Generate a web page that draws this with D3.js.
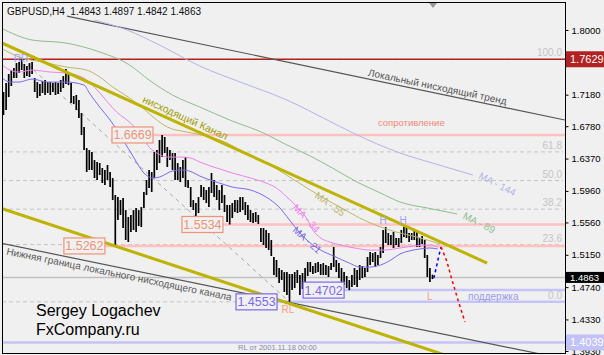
<!DOCTYPE html>
<html>
<head>
<meta charset="utf-8">
<script src="https://cdn.jsdelivr.net/npm/d3@7"></script>
<style>
  body { margin: 0; background: #f0f0f0; }
  svg { display: block; font-family: "Liberation Sans", Arial, sans-serif; }
</style>
</head>
<body>
<div id="chart"></div>
<script>
// GBPUSD H4 bars, one entry per bar (index 0 = first visible bar)
const highs = [
  1.7214,1.7328,1.7442,1.7492,1.7518,1.7581,1.7594,1.7632,1.7569,1.7543,
  1.7581,1.7594,1.7391,1.7340,1.7315,1.7353,1.7366,1.7340,1.7340,1.7328,
  1.7340,1.7328,1.7366,1.7416,1.7505,1.7454,1.7328,1.7163,1.7176,1.7112,
  1.6947,1.6770,1.6504,1.6478,1.6453,1.6351,1.6326,1.6313,1.6250,1.6225,
  1.6288,1.6199,1.6123,1.5908,1.5882,1.5844,1.5870,1.5717,1.5629,1.5654,
  1.5717,1.5743,1.5717,1.5755,1.5946,1.6098,1.6225,1.6199,1.6453,1.6478,
  1.6605,1.6669,1.6643,1.6516,1.6478,1.6440,1.6440,1.6313,1.6263,1.6351,
  1.6389,1.6098,1.6009,1.5844,1.5806,1.5882,1.6034,1.6009,1.5971,1.6009,
  1.6187,1.6098,1.6034,1.5971,1.6034,1.5908,1.5781,1.5781,1.5806,1.5844,
  1.5844,1.5882,1.5882,1.5819,1.5781,1.5717,1.5679,1.5692,1.5654,1.5489,
  1.5489,1.5464,1.5426,1.5337,1.5122,1.5084,1.4982,1.4957,1.4931,1.4931,
  1.4906,1.4906,1.4931,1.4957,1.4893,1.4919,1.4982,1.5058,1.5058,1.5007,
  1.5045,1.5058,1.5033,1.5045,1.5020,1.5007,1.5045,1.5248,1.5084,1.5045,
  1.4982,1.4931,1.4881,1.4830,1.4893,1.4982,1.4957,1.5020,1.5007,1.4982,
  1.5122,1.5185,1.5172,1.5185,1.5147,1.5248,1.5464,1.5502,1.5426,1.5400,
  1.5439,1.5362,1.5362,1.5464,1.5502,1.5502,1.5426,1.5426,1.5452,1.5439,
  1.5362,1.5388,1.5337,1.5147,1.4982,1.4897
];
const lows = [
  1.6922,1.6985,1.7150,1.7290,1.7391,1.7391,1.7454,1.7492,1.7391,1.7416,
  1.7404,1.7442,1.7214,1.7138,1.7163,1.7201,1.7176,1.7201,1.7176,1.7214,
  1.7176,1.7188,1.7214,1.7264,1.7315,1.7302,1.7074,1.7061,1.6985,1.6884,
  1.6668,1.6478,1.6199,1.6225,1.6225,1.6123,1.6098,1.6161,1.6060,1.6034,
  1.6098,1.6009,1.5844,1.5262,1.5591,1.5654,1.5489,1.5337,1.5312,1.5439,
  1.5464,1.5439,1.5515,1.5502,1.5743,1.5908,1.5996,1.5946,1.6123,1.6225,
  1.6313,1.6389,1.6440,1.6263,1.6351,1.6225,1.6098,1.6098,1.6072,1.6123,
  1.6009,1.5996,1.5755,1.5717,1.5591,1.5679,1.5882,1.5844,1.5806,1.5755,
  1.5933,1.5882,1.5844,1.5717,1.5806,1.5692,1.5565,1.5534,1.5616,1.5692,
  1.5679,1.5692,1.5717,1.5654,1.5591,1.5565,1.5553,1.5565,1.5540,1.5312,
  1.5274,1.5236,1.5210,1.5134,1.4893,1.4868,1.4792,1.4830,1.4678,1.4640,
  1.4553,1.4703,1.4728,1.4792,1.4640,1.4716,1.4805,1.4881,1.4931,1.4906,
  1.4919,1.4931,1.4893,1.4893,1.4893,1.4868,1.4957,1.4995,1.4931,1.4855,
  1.4767,1.4767,1.4728,1.4702,1.4741,1.4767,1.4741,1.4830,1.4855,1.4868,
  1.4931,1.5020,1.5058,1.4995,1.5020,1.5109,1.5172,1.5299,1.5274,1.5274,
  1.5236,1.5274,1.5248,1.5299,1.5375,1.5362,1.5312,1.5337,1.5337,1.5248,
  1.5248,1.5286,1.5109,1.4868,1.4805,1.4842
];

// moving averages as [bar index, price]
const ma21 = [[-1,1.7404],[2.5,1.7340],[6,1.7340],[11,1.7378],[17,1.7340],[24,1.7340],[31,1.7302],[33,1.7201],
  [37,1.7023],[41,1.6859],[46,1.6605],[50,1.6389],[54,1.6187],[57.5,1.6123],[60,1.6136],[65,1.6212],[69,1.6225],
  [72.5,1.6199],[75.5,1.6148],[79.5,1.6098],[83,1.6060],[88,1.6009],[95,1.5971],[101,1.5882],[106,1.5755],
  [110,1.5591],[114,1.5426],[118,1.5299],[122,1.5210],[127,1.5134],[133,1.5045],[137,1.4995],[141,1.4995],
  [145,1.5020],[149,1.5084],[152.5,1.5160],[156,1.5198],[160,1.5223],[164,1.5236],[167,1.5223]];
const ma34 = [[-1,1.7569],[2.5,1.7492],[6,1.7467],[11,1.7492],[18,1.7467],[24,1.7454],[28,1.7429],[32,1.7366],
  [36,1.7239],[40,1.7087],[43.5,1.6960],[47.5,1.6859],[52.5,1.6694],[56,1.6516],[59,1.6440],[63,1.6389],[68,1.6389],
  [72,1.6377],[75.5,1.6326],[82,1.6250],[88,1.6187],[95,1.6123],[101,1.6060],[105,1.5996],[109,1.5882],[113,1.5755],
  [117,1.5591],[119,1.5464],[122,1.5362],[125.5,1.5312],[129.5,1.5274],[135,1.5236],[141,1.5210],[146.5,1.5210],
  [152.5,1.5236],[158,1.5262],[164,1.5274],[167,1.5248]];
const ma55 = [[-1,1.7771],[6,1.7657],[15,1.7594],[24,1.7531],[32,1.7492],[37,1.7404],[42,1.7277],[48.5,1.7138],
  [54.5,1.6985],[58,1.6884],[63,1.6770],[70.5,1.6706],[78,1.6656],[86,1.6567],[91,1.6478],[96.5,1.6389],
  [102.5,1.6288],[110,1.6136],[118,1.5971],[126.5,1.5806],[131.5,1.5717],[137,1.5616],[143,1.5527],[151,1.5439],
  [159,1.5375],[168,1.5286]];
const ma89 = [[-1,1.8025],[11,1.7873],[24,1.7835],[37,1.7721],[48.5,1.7556],[56,1.7366],[65,1.7176],[75.5,1.7023],
  [87,1.6859],[100,1.6694],[109,1.6542],[118,1.6402],[126.5,1.6250],[136,1.6072],[145,1.5933],[152.5,1.5819],
  [163,1.5743],[174.5,1.5667]];
const ma144 = [[35,1.8126],[47.5,1.8000],[60,1.7809],[75.5,1.7543],[92,1.7328],[109,1.7112],[124.5,1.6859],
  [134.5,1.6694],[152.5,1.6440],[165,1.6313],[180.5,1.6161]];

// drawn objects: trend lines as [bar index, price] end points
const localTrendUpper = [[24.4,1.8177],[215.9,1.6859]];
const localTrendLower = [[-1.35,1.5299],[215.9,1.3828]];
const channelUpper = [[-1.35,1.7847],[186,1.5045]];
const channelLower = [[-1.35,1.5743],[175.6,1.3816]];
const fibTrend = [[7,1.7629],[110,1.4553]];
const fibLevels = ["0.0","23.6","38.2","50.0","61.8","100.0"];
const fibPrices = [1.4553,1.5279,1.5728,1.6091,1.6454,1.7629];
const resistLevels = [1.6669,1.5534,1.5262];
const resistFrom = [57.5,84.4,39];
const supportLevels = [1.4702,1.4553];
const supportFrom = [131,105.2];
const rlLevel = 1.4039;
const redLevel = 1.7629;
const lastPrice = 1.4863;
const forecastUp = [[165.5,1.4855],[166.5,1.4995],[167.5,1.5147],[168.3,1.5248]];
const forecastDown = [[168.3,1.5248],[170.5,1.5070],[172.5,1.4830],[174.8,1.4577],[177.5,1.4298]];
const tickVals = [1.3930,1.4330,1.4740,1.5150,1.5560,1.5960,1.6370,1.6780,1.7180,1.8000];

const W = 604, H = 355;
const pl = 2, pr = 565, pt = 2, pb = 353;

const svg = d3.select("#chart").append("svg").attr("width", W).attr("height", H);
svg.append("rect").attr("width", W).attr("height", H).attr("fill", "#f0f0f0");

const x = d3.scaleLinear().domain([0, 165]).range([3.5, 432.5]);
const y = d3.scaleLinear().domain([1.3930, 1.8000]).range([351, 30]);

svg.append("clipPath").attr("id", "plot").append("rect")
    .attr("x", pl).attr("y", pt).attr("width", pr - pl).attr("height", pb - pt);
const g = svg.append("g").attr("clip-path", "url(#plot)");

const seg = (pts, color, w, dash) => g.append("path")
    .attr("d", d3.line().x(d => x(d[0])).y(d => y(d[1]))(pts))
    .attr("fill", "none").attr("stroke", color).attr("stroke-width", w)
    .attr("stroke-dasharray", dash || null);

// fibonacci levels
fibPrices.forEach((p, k) => {
    g.append("line").attr("x1", pl).attr("x2", 563).attr("y1", y(p)).attr("y2", y(p))
        .attr("stroke", "#c4c4c4").attr("stroke-dasharray", "4,3");
    svg.append("text").attr("x", 562).attr("y", y(p) - 3).attr("text-anchor", "end")
        .attr("font-size", 10).attr("fill", "#c4c4c4").text(fibLevels[k]);
});
seg(fibTrend, "#a8a8a8", 1, "4,4");

// text along a drawn line
function lineAt(s, i) {
    const t = (i - s[0][0]) / (s[1][0] - s[0][0]);
    return [x(i), y(s[0][1] + t * (s[1][1] - s[0][1]))];
}
function alongText(s, i, txt, off, color, size) {
    const a = [x(s[0][0]), y(s[0][1])], b = [x(s[1][0]), y(s[1][1])];
    const ang = Math.atan2(b[1] - a[1], b[0] - a[0]) * 180 / Math.PI;
    const q = lineAt(s, i);
    svg.append("text").attr("transform", `translate(${q[0]},${q[1]}) rotate(${ang})`)
        .attr("dy", off).attr("font-size", size).attr("fill", color).text(txt);
}
alongText(channelUpper, 52.5, "нисходящий Канал", -4, "#a29c00", 10.5);

// levels
g.append("line").attr("x1", pl).attr("x2", pr).attr("y1", y(lastPrice)).attr("y2", y(lastPrice))
    .attr("stroke", "#c0c0c0").attr("stroke-width", 1.5);
g.append("line").attr("x1", pl).attr("x2", pr).attr("y1", y(rlLevel)).attr("y2", y(rlLevel))
    .attr("stroke", "#c4c4f8").attr("stroke-width", 2.5);
resistLevels.forEach((p, k) => {
    g.append("line").attr("x1", x(resistFrom[k])).attr("x2", pr).attr("y1", y(p)).attr("y2", y(p))
        .attr("stroke", "#ffc0c0").attr("stroke-width", 2.5);
});
supportLevels.forEach((p, k) => {
    g.append("line").attr("x1", x(supportFrom[k])).attr("x2", pr).attr("y1", y(p)).attr("y2", y(p))
        .attr("stroke", "#c4c4f8").attr("stroke-width", 2.5);
});
g.append("line").attr("x1", pl).attr("x2", pr).attr("y1", y(redLevel)).attr("y2", y(redLevel))
    .attr("stroke", "#b82020").attr("stroke-width", 1.5);

// local channel
seg(localTrendUpper, "#555", 1.2);
seg(localTrendLower, "#555", 1.2);

// bars
g.selectAll("line.bar").data(highs).join("line").attr("class", "bar")
    .attr("x1", (d, i) => x(i)).attr("x2", (d, i) => x(i))
    .attr("y1", d => y(d)).attr("y2", (d, i) => y(lows[i]))
    .attr("stroke", "#000").attr("stroke-width", 1.7);

// moving averages
const curve = d3.line().x(d => x(d[0])).y(d => y(d[1])).curve(d3.curveMonotoneX);
[[ma144, "#b4b4e4"], [ma89, "#8fbc8f"], [ma55, "#bdb76b"], [ma34, "#ee82ee"], [ma21, "#7b68ee"]]
    .forEach(([d, c]) => g.append("path").attr("d", curve(d)).attr("fill", "none")
        .attr("stroke", c).attr("stroke-width", 1));

// wide channel
seg(channelUpper, "#bdb300", 3);
seg(channelLower, "#bdb300", 3);

// forecast
seg(forecastUp, "#0000ff", 1.5, "3,3");
seg(forecastDown, "#ff0000", 1.5, "3,3");

// level boxes
function box(p, i, txt, color) {
    const xr = x(i), yc = y(p);
    svg.append("rect").attr("x", xr - 41).attr("y", yc - 8).attr("width", 41).attr("height", 16)
        .attr("fill", "#f0f0f0").attr("stroke", color).attr("stroke-width", 1.2);
    svg.append("text").attr("x", xr - 20.5).attr("y", yc + 4.5).attr("text-anchor", "middle")
        .attr("font-size", 12.5).attr("fill", color).text(txt);
}
resistLevels.forEach((p, k) => box(p, resistFrom[k], p.toFixed(4), "#ee9378"));
supportLevels.forEach((p, k) => box(p, supportFrom[k], p.toFixed(4), "#7b68ee"));

// annotations
const note = (i, p, txt, color, size, anchor) => svg.append("text").attr("x", x(i)).attr("y", y(p))
    .attr("font-size", size).attr("fill", color).attr("text-anchor", anchor || "start").text(txt);
note(6.7, 1.7594, "RR", "#a0a0f0", 10, "middle");
note(146, 1.5540, "H", "#a0a0f0", 10, "middle");
note(153.7, 1.5540, "H", "#a0a0f0", 10, "middle");
note(164, 1.4577, "L", "#f4a080", 10, "middle");
note(109.4, 1.4411, "RL", "#f4a080", 10, "middle");
note(144, 1.6782, "сопротивление", "#f08878", 9.5);
note(178.7, 1.4577, "поддержка", "#9a9aee", 10);
note(90.2, 1.3943, "RL  от 2001.11.18 00:00", "#8888a8", 7.5);
note(12.5, 1.4373, "Sergey Logachev", "#000", 16);
note(12.5, 1.4133, "FxCompany.ru", "#000", 16);

alongText(localTrendUpper, 139.8, "Локальный нисходящий тренд", -3, "#555", 10);
alongText(localTrendLower, 1.7, "Нижняя граница локального нисходящего канала", 10, "#5a5a5a", 10);

const maLabel = (i, p, ang, txt, color) => svg.append("text")
    .attr("transform", `translate(${x(i)},${y(p)}) rotate(${ang})`)
    .attr("font-size", 10).attr("fill", color).text(txt);
maLabel(119.4, 1.5882, 35, "MA - 55", "#bdb76b");
maLabel(111, 1.5743, 47, "MA - 34", "#ee82ee");
maLabel(111, 1.5451, 42, "MA - 21", "#7b68ee");
maLabel(176.4, 1.5616, 27, "MA - 89", "#8fbc8f");
maLabel(182.5, 1.6123, 27, "MA - 144", "#b4b4e4");

// header
svg.append("text").attr("x", 7).attr("y", 15).attr("font-size", 10).attr("fill", "#111")
    .style("white-space", "pre")
    .text("GBPUSD,H4  1.4843 1.4897 1.4842 1.4863");
svg.append("path").attr("d", "M429,3 L437,3 L433,8 Z").attr("fill", "#999");

// frame
svg.append("rect").attr("x", pl + 0.5).attr("y", pt + 0.5)
    .attr("width", pr - pl).attr("height", pb - pt)
    .attr("fill", "none").attr("stroke", "#000");

// price axis
const ga = svg.append("g").attr("transform", `translate(${pr + 0.5},0)`)
    .call(d3.axisRight(y).tickValues(tickVals).tickFormat(d3.format(".4f")).tickSize(3).tickPadding(3));
ga.select(".domain").remove();
ga.attr("font-family", "Liberation Sans, Arial, sans-serif").attr("font-size", 9.5);
ga.selectAll("text").attr("fill", "#000");

const tags = [[redLevel, "#b22222", 11, 16], [lastPrice, "#000", 9.5, 11], [rlLevel, "#c2c2f8", 11, 16]];
tags.forEach(([p, bg, fs, h]) => {
    svg.append("rect").attr("x", pr + 1).attr("y", y(p) - h / 2).attr("width", W - pr - 1).attr("height", h)
        .attr("fill", bg);
    svg.append("text").attr("x", 570).attr("y", y(p) + fs * 0.36).attr("font-size", fs)
        .attr("fill", "#fff").text(p.toFixed(4));
});
</script>
</body>
</html>
